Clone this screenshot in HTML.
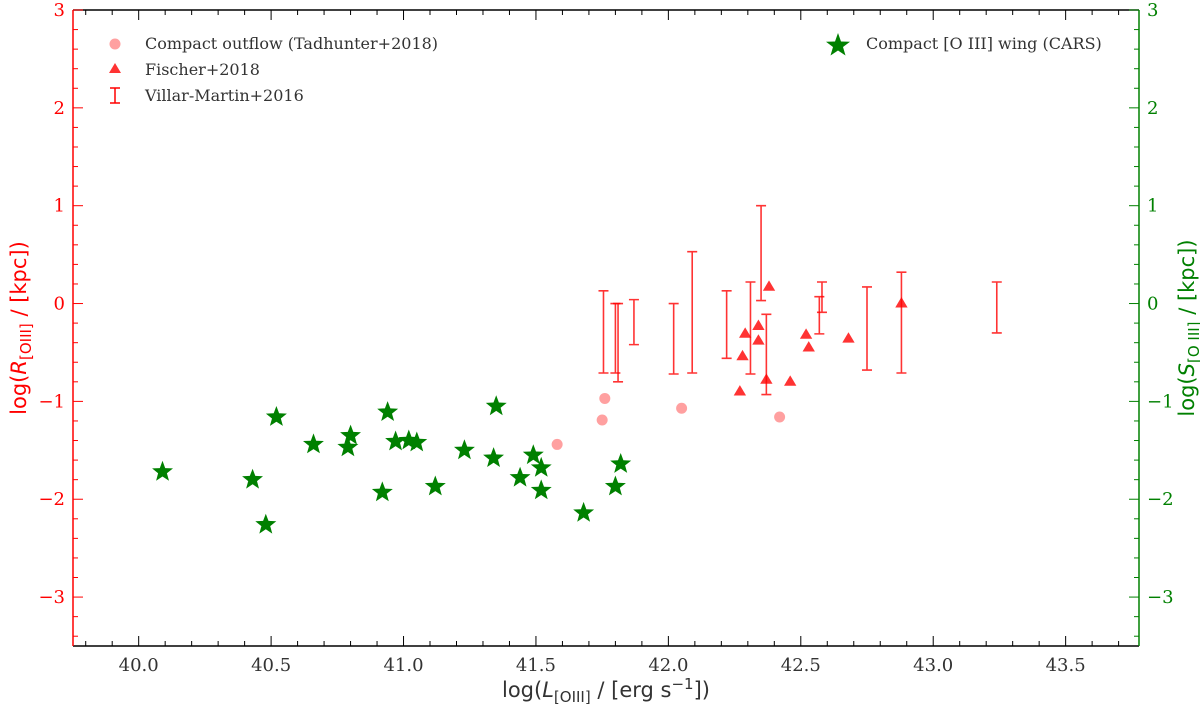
<!DOCTYPE html>
<html><head><meta charset="utf-8"><style>
body{margin:0;background:#fff}
svg{display:block}
.tk{font-family:"DejaVu Serif","Liberation Serif",serif;font-size:18px}
.lg{font-family:"DejaVu Serif","Liberation Serif",serif;font-size:16px;fill:#333}
.al{font-family:"DejaVu Sans","Liberation Sans",sans-serif;font-size:21px}
</style></head><body>
<svg id="c" width="1200" height="709"></svg>
<script>
const starX=[40.09,40.43,40.48,40.52,40.66,40.79,40.80,40.92,40.94,40.97,41.02,41.05,41.12,41.23,41.34,41.35,41.44,41.49,41.52,41.52,41.68,41.80,41.82];
const starY=[-1.72,-1.80,-2.26,-1.16,-1.44,-1.47,-1.35,-1.93,-1.11,-1.41,-1.40,-1.42,-1.87,-1.50,-1.58,-1.05,-1.78,-1.55,-1.91,-1.68,-2.14,-1.87,-1.64];
const circX=[41.58,41.75,41.76,42.05,42.42];
const circY=[-1.44,-1.19,-0.97,-1.07,-1.16];
const triX=[42.27,42.28,42.29,42.34,42.34,42.38,42.37,42.46,42.52,42.53,42.68,42.88];
const triY=[-0.90,-0.54,-0.31,-0.23,-0.38,0.17,-0.78,-0.80,-0.32,-0.45,-0.36,0.00];
const ebX=[41.755,41.80,41.81,41.87,42.02,42.09,42.22,42.31,42.35,42.37,42.58,42.57,42.75,42.88,43.24];
const ebTop=[0.13,0.0,0.0,0.04,0.0,0.53,0.13,0.22,1.00,-0.11,0.22,0.07,0.17,0.32,0.22];
const ebBot=[-0.71,-0.71,-0.80,-0.42,-0.72,-0.71,-0.56,-0.72,0.03,-0.93,-0.09,-0.31,-0.68,-0.71,-0.30];
const xTicks=[40.0,40.5,41.0,41.5,42.0,42.5,43.0,43.5];
const yTicks=[3,2,1,0,-1,-2,-3];

const L=73,R=1139,T=10,B=646,X0=39.752,X1=43.777,Y0=-3.5,Y1=3;
const sx=v=>L+(v-X0)/(X1-X0)*(R-L);
const sy=v=>B-(v-Y0)/(Y1-Y0)*(B-T);
const svg=document.getElementById('c');const NS='http://www.w3.org/2000/svg';
function el(t,a,txt){const e=document.createElementNS(NS,t);for(const k in a)e.setAttribute(k,a[k]);if(txt!=null)e.textContent=txt;svg.appendChild(e);return e;}

ebX.forEach((x,i)=>{const X=sx(x),a=sy(ebTop[i]),b=sy(ebBot[i]);
const g=el('path',{d:`M${X},${a}V${b}M${X-5},${a}H${X+5}M${X-5},${b}H${X+5}`,stroke:'#f00','stroke-opacity':0.8,'stroke-width':1.6,fill:'none'});

});
circX.forEach((x,i)=>{const c=el('circle',{cx:sx(x),cy:sy(circY[i]),r:5.5,fill:'#ff8080','fill-opacity':0.75});

});
function tri(X,Y,s){return `M${X},${Y-s}L${X+s*0.95},${Y+s*0.6}L${X-s*0.95},${Y+s*0.6}Z`;}
triX.forEach((x,i)=>{const t=el('path',{d:tri(sx(x),sy(triY[i]),6.5),fill:'#f00','fill-opacity':0.8});

});
function star(X,Y,r){let p='';for(let k=0;k<10;k++){const rr=k%2?r*0.42:r;const a=-Math.PI/2+k*Math.PI/5;p+=(k?'L':'M')+(X+rr*Math.cos(a)).toFixed(1)+','+(Y+rr*Math.sin(a)).toFixed(1);}return p+'Z';}
starX.forEach((x,i)=>{const s=el('path',{d:star(sx(x),sy(starY[i]),11),fill:'#008000'});

});

el('line',{x1:L,y1:T,x2:R,y2:T,stroke:'#000','stroke-width':1.5});
el('line',{x1:L,y1:B,x2:R,y2:B,stroke:'#000','stroke-width':1.5});
el('line',{x1:L,y1:T,x2:L,y2:B,stroke:'#f00','stroke-width':1.5});
el('line',{x1:R,y1:T,x2:R,y2:B,stroke:'#008000','stroke-width':1.5});
for(let v=39.8;v<=43.75;v+=0.1){const X=sx(v);const major=Math.abs(v*2-Math.round(v*2))<1e-6;const len=major?10:5;
el('line',{x1:X,y1:B,x2:X,y2:B-len,stroke:'#000'});el('line',{x1:X,y1:T,x2:X,y2:T+len,stroke:'#000'});}
xTicks.forEach(v=>{const t=el('text',{x:sx(v),y:B+25,'text-anchor':'middle',class:'tk',fill:'#333'},v.toFixed(1));

});
for(let v=-3.4;v<=3.001;v+=0.2){const Y=sy(v);const major=Math.abs(v-Math.round(v))<1e-6;const len=major?10:5;
el('line',{x1:L,y1:Y,x2:L+len,y2:Y,stroke:'#f00'});el('line',{x1:R,y1:Y,x2:R-len,y2:Y,stroke:'#008000'});}
yTicks.forEach(v=>{const s=v<0?'\u2212'+(-v):''+v;
const a=el('text',{x:L-8,y:sy(v)+6,'text-anchor':'end',class:'tk',fill:'#f00'},s);


const b=el('text',{x:R+8,y:sy(v)+6,'text-anchor':'start',class:'tk',fill:'#008000'},s);

});
</script>
<svg width="1200" height="709" style="position:absolute;left:0;top:0">
<text class="al" x="606" y="697" text-anchor="middle" fill="#333">log(<tspan font-style="italic">L</tspan><tspan font-size="15" dy="5">[OIII]</tspan><tspan dy="-5"> / [erg s</tspan><tspan font-size="15" dy="-8">−1</tspan><tspan dy="8">])</tspan></text>
<text class="al" transform="translate(26,328) rotate(-90)" text-anchor="middle" fill="#f00">log(<tspan font-style="italic">R</tspan><tspan font-size="15" dy="5">[OIII]</tspan><tspan dy="-5"> / [kpc])</tspan></text>
<text class="al" transform="translate(1194,328) rotate(-90)" text-anchor="middle" fill="#008000">log(<tspan font-style="italic">S</tspan><tspan font-size="15" dy="5">[O III]</tspan><tspan dy="-5"> / [kpc])</tspan></text>
<g>
<circle cx="115" cy="44" r="5.5" fill="#ff8080" fill-opacity="0.75"/>
<text class="lg" x="145" y="49">Compact outflow (Tadhunter+2018)</text>
<path d="M115,63L121,73L109,73Z" fill="#f00" fill-opacity="0.8"/>
<text class="lg" x="145" y="75">Fischer+2018</text>
<path d="M115,88V103M110,88H120M110,103H120" stroke="#f00" stroke-width="1.5" fill="none"/>
<text class="lg" x="145" y="101">Villar-Martin+2016</text>
</g>
<g>
<path d="M838,33L841,41.5L850,41.7L843,47L845.5,55.5L838,50.5L830.5,55.5L833,47L826,41.7L835,41.5Z" fill="#008000"/>
<text class="lg" x="866" y="49">Compact [O III] wing (CARS)</text>
</g>
</svg>
</body></html>
